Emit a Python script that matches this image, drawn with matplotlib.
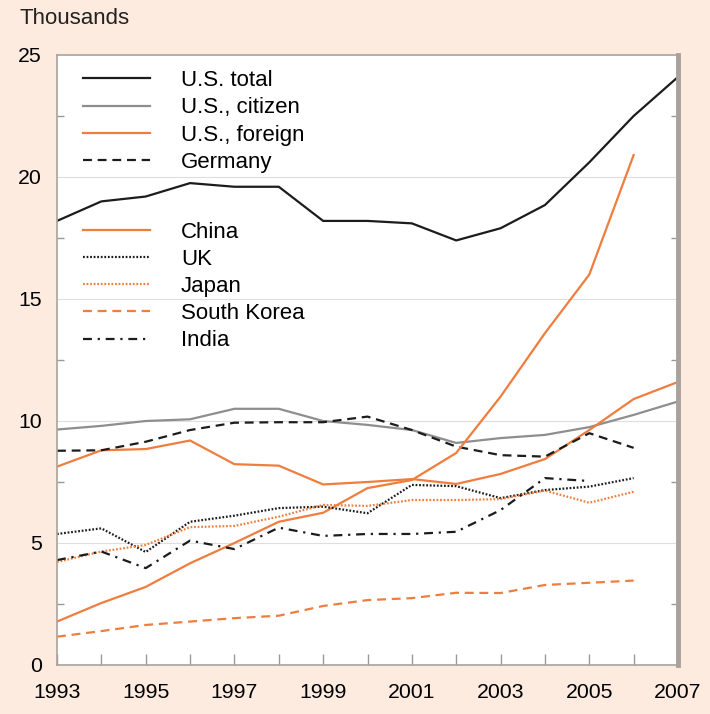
import matplotlib as mpl
import matplotlib.pyplot as plt

mpl.rcParams.update({
    "font.family": ["Liberation Sans", "DejaVu Sans"],
    "font.size": 15.5,
})

BG = "#fdebdf"
BLACK = "#1c1c1c"
GRAY = "#8e8e8e"
ORANGE = "#ef7d3e"
SPINE = "#a9a29c"

years = list(range(1993, 2008))
years_06 = list(range(1993, 2007))
years_05 = list(range(1993, 2006))

us_total = [18.2, 19.0, 19.2, 19.75, 19.6, 19.6, 18.2, 18.2, 18.1, 17.4, 17.9, 18.85, 20.6, 22.5, 24.1]
us_citizen = [9.65, 9.8, 10.0, 10.07, 10.5, 10.5, 10.0, 9.84, 9.63, 9.1, 9.3, 9.43, 9.75, 10.25, 10.8]
us_foreign = [8.13, 8.8, 8.85, 9.2, 8.23, 8.17, 7.4, 7.5, 7.62, 7.42, 7.83, 8.44, 9.63, 10.9, 11.6]
germany = [8.78, 8.8, 9.15, 9.63, 9.93, 9.95, 9.95, 10.18, 9.63, 8.95, 8.6, 8.54, 9.5, 8.9]
china = [1.78, 2.54, 3.2, 4.17, 5.0, 5.87, 6.24, 7.25, 7.58, 8.69, 11.0, 13.6, 16.0, 20.9]
uk = [5.37, 5.6, 4.63, 5.87, 6.12, 6.43, 6.49, 6.22, 7.38, 7.33, 6.84, 7.17, 7.31, 7.66]
japan = [4.22, 4.65, 4.92, 5.65, 5.7, 6.08, 6.56, 6.52, 6.76, 6.76, 6.8, 7.15, 6.65, 7.1]
south_korea = [1.16, 1.39, 1.64, 1.78, 1.92, 2.02, 2.42, 2.66, 2.74, 2.96, 2.95, 3.28, 3.37, 3.46]
india = [4.3, 4.65, 3.97, 5.1, 4.75, 5.63, 5.29, 5.37, 5.37, 5.46, 6.35, 7.66, 7.54]

x_ticks = [1993, 1995, 1997, 1999, 2001, 2003, 2005, 2007]
y_ticks = [0, 5, 10, 15, 20, 25]

fig = plt.figure(figsize=(7.1, 7.14), dpi=100, facecolor=BG)
ax = fig.add_axes([57 / 710, 49 / 714, 621 / 710, 610 / 714])
ax.set_facecolor("white")

for y in [5, 10, 15, 20]:
    ax.axhline(y, color="#dedede", lw=0.8, zorder=0)

lw = 1.6
h1 = [
    ax.plot(years, us_total, color=BLACK, lw=lw, label="U.S. total")[0],
    ax.plot(years, us_citizen, color=GRAY, lw=lw, label="U.S., citizen")[0],
    ax.plot(years, us_foreign, color=ORANGE, lw=lw, label="U.S., foreign")[0],
    ax.plot(years_06, germany, color=BLACK, lw=lw, ls=(0, (4, 2.6)), label="Germany")[0],
]
h2 = [
    ax.plot(years_06, china, color=ORANGE, lw=lw, label="China")[0],
    ax.plot(years_06, uk, color=BLACK, lw=lw, ls=(0, (0.8, 0.8)), label="UK")[0],
    ax.plot(years_06, japan, color=ORANGE, lw=lw, ls=(0, (0.8, 0.8)), label="Japan")[0],
    ax.plot(years_06, south_korea, color=ORANGE, lw=lw, ls=(0, (4, 2.6)), label="South Korea")[0],
    ax.plot(years_05, india, color=BLACK, lw=lw, ls=(0, (4, 2.6, 1, 2.6)), label="India")[0],
]

ax.set_xlim(1993, 2007)
ax.set_ylim(0, 25)
ax.set_xticks(x_ticks)
ax.set_xticks(years, minor=True)
ax.set_yticks(y_ticks)
ax.set_yticks([2.5, 7.5, 12.5, 17.5, 22.5], minor=True)
ax.tick_params(axis="x", which="both", direction="in", length=8, width=1, color="#999999",
               pad=13, labelsize=15.3)
ax.tick_params(axis="y", which="major", length=0, pad=11, labelsize=15.3)
ax.tick_params(axis="y", which="minor", direction="in", length=5, width=1, color="#999999",
               left=True, right=True)

for side in ["left", "bottom", "top"]:
    ax.spines[side].set_color(SPINE)
    ax.spines[side].set_linewidth(1.2)
ax.spines["right"].set_color(SPINE)
ax.spines["right"].set_linewidth(3.5)

leg_kw = dict(frameon=False, fontsize=16, handlelength=3.0, handletextpad=1.4,
              labelspacing=0.28, borderaxespad=0, borderpad=0)
leg1 = ax.legend(handles=h1, loc="upper left", bbox_to_anchor=(0.042, 0.975), **leg_kw)
ax.add_artist(leg1)
ax.legend(handles=h2, loc="upper left", bbox_to_anchor=(0.042, 0.727), **leg_kw)

fig.text(20 / 710, 1 - 18 / 714, "Thousands", fontsize=16, va="center", ha="left", color="#222222")

fig.savefig("out.png", dpi=100, facecolor=BG)
